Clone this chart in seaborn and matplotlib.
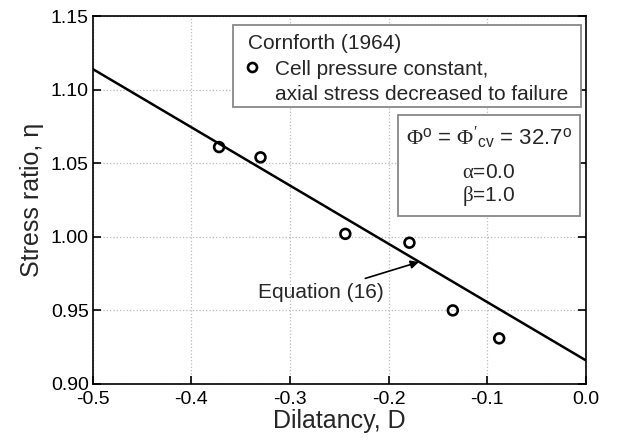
import matplotlib
matplotlib.use("Agg")
import matplotlib.pyplot as plt
import seaborn as sns
import pandas as pd
from matplotlib.lines import Line2D
from matplotlib.patches import Rectangle

# Data
dilatancy = [-0.372, -0.330, -0.244, -0.179, -0.135, -0.088]
stress_ratio = [1.061, 1.054, 1.002, 0.996, 0.950, 0.931]
line_x = [-0.5, 0.0]
line_y = [1.114, 0.916]
x_ticks = [-0.5, -0.4, -0.3, -0.2, -0.1, 0.0]
y_ticks = [0.90, 0.95, 1.00, 1.05, 1.10, 1.15]

sns.set_theme(style="white")
plt.rcParams['font.family'] = ['Liberation Sans', 'DejaVu Sans']
plt.rcParams['mathtext.fontset'] = 'custom'
plt.rcParams['mathtext.rm'] = 'Liberation Serif'
plt.rcParams['mathtext.it'] = 'Liberation Serif'
plt.rcParams['mathtext.sf'] = 'Liberation Sans'

fig = plt.figure(figsize=(6.23, 4.47), dpi=100)
ax = fig.add_axes([0.149, 0.141, 0.7916, 0.823])

pts = pd.DataFrame({"D": dilatancy, "eta": stress_ratio})
ln = pd.DataFrame({"D": line_x, "eta": line_y})

sns.lineplot(data=ln, x="D", y="eta", ax=ax, color="black", linewidth=1.8, zorder=3)
sns.scatterplot(data=pts, x="D", y="eta", ax=ax, marker="o", s=50,
                facecolor="none", edgecolor="black", linewidth=1.9, zorder=4)

ax.set_xlim(-0.5, 0.0)
ax.set_ylim(0.90, 1.15)
ax.set_xticks(x_ticks)
ax.set_yticks(y_ticks)
ax.set_xticklabels([f"{v:.1f}" for v in x_ticks])
ax.set_yticklabels([f"{v:.2f}" for v in y_ticks])
ax.tick_params(axis="both", direction="in", length=6, width=1.2, labelsize=14,
               colors="black", top=False, right=True, bottom=True, left=True)
ax.tick_params(axis="x", pad=5)
ax.tick_params(axis="y", pad=3)
ax.grid(True, color="#bbbbbb", linestyle=":", linewidth=0.9)
for s in ax.spines.values():
    s.set_color("black")
    s.set_linewidth(1.2)

ax.set_xlabel("Dilatancy, D", fontsize=18, labelpad=1)
ax.set_ylabel("Stress ratio, η", fontsize=18, labelpad=5)

# legend box (frame drawn separately)
ax.add_patch(Rectangle((0.284, 0.7527), 0.706, 0.2228, transform=ax.transAxes,
                       facecolor="white", edgecolor="#888888", linewidth=1.3, zorder=5))
handle = Line2D([], [], marker="o", linestyle="none", markerfacecolor="none",
                markeredgecolor="black", markeredgewidth=1.9, markersize=6.5)
blank = Line2D([], [], linestyle="none", marker=None)
leg = ax.legend([handle, blank], ["Cell pressure constant,", "axial stress decreased to failure"],
                title="Cornforth (1964)", alignment="left", loc="upper left",
                bbox_to_anchor=(0.314, 0.952), fontsize=15, title_fontsize=15,
                frameon=False, handlelength=0.43, handletextpad=0.86,
                borderpad=0, labelspacing=0.3, borderaxespad=0)
leg.set_zorder(6)
leg._legend_box.sep = 5

# parameter box
ax.add_patch(Rectangle((0.619, 0.4565), 0.369, 0.2745, transform=ax.transAxes,
                       facecolor="white", edgecolor="#888888", linewidth=1.3, zorder=5))
ax.text(0.803, 0.668,
        "$\\Phi^{\\mathsf{o}}$ = $\\Phi'_{\\mathsf{cv}}$ = 32.7$^{\\mathsf{o}}$",
        transform=ax.transAxes, ha="center", va="center", fontsize=16, zorder=6)
ax.text(0.803, 0.576, "$\\alpha$=0.0", transform=ax.transAxes, ha="center",
        va="center", fontsize=15, zorder=6)
ax.text(0.803, 0.511, "$\\beta$=1.0", transform=ax.transAxes, ha="center",
        va="center", fontsize=15, zorder=6)

ax.annotate("Equation (16)", xy=(-0.1694, 0.9829), xytext=(-0.205, 0.9625),
            ha="right", va="center", fontsize=15,
            arrowprops=dict(arrowstyle="-|>", color="black", lw=1.2,
                            mutation_scale=12, shrinkA=2, shrinkB=0), zorder=5)

fig.savefig("out.png", dpi=100)
